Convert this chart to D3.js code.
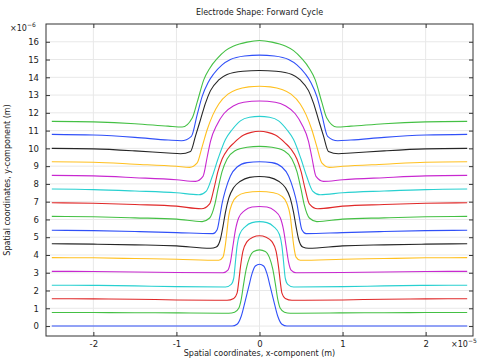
<!DOCTYPE html>
<html>
<head>
<meta charset="utf-8">
<script src="https://cdn.jsdelivr.net/npm/d3@7"></script>
<style>
  body { margin: 0; background: #fff; }
  text { font-family: "DejaVu Sans", sans-serif; fill: #222; }
</style>
</head>
<body>
<svg id="drawing_region"></svg>
<script>
// x in 1e-5 m, y in 1e-6 m ; left half of each profile (mirrored for the right half)
const xTicks = [-2, -1, 0, 1, 2];
const yTicks = d3.range(0, 17);
const colors = ['#3050f8', '#44c044', '#e02828', '#28d0d0', '#c828d0', '#ffc020', '#262626'];

const shape00 = [[-2.5,0],[-1.0,0],[-0.33,0],[-0.27,0.1],[-0.22,0.55],[-0.17,1.45],[-0.13,2.2],[-0.09,2.95],[-0.05,3.38],[0,3.48]];
const shape01 = [[-2.5,0.76],[-2.0,0.76],[-1.5,0.75],[-1.0,0.74],[-0.37,0.72],[-0.3,0.78],[-0.25,1.0],[-0.22,1.5],[-0.19,2.4],[-0.16,3.2],[-0.12,3.85],[-0.07,4.2],[0,4.29]];
const shape02 = [[-2.5,1.54],[-2.0,1.53],[-1.5,1.51],[-1.0,1.47],[-0.39,1.45],[-0.31,1.55],[-0.27,1.85],[-0.25,2.5],[-0.23,3.3],[-0.2,4.2],[-0.15,4.75],[-0.08,5.0],[0,5.08]];
const shape03 = [[-2.5,2.30],[-2.0,2.29],[-1.5,2.26],[-1.0,2.22],[-0.41,2.2],[-0.34,2.35],[-0.31,2.7],[-0.29,3.6],[-0.27,4.5],[-0.24,5.15],[-0.17,5.6],[-0.09,5.82],[0,5.88]];
const shape04 = [[-2.5,3.08],[-2.0,3.07],[-1.5,3.04],[-1.0,3.01],[-0.44,3.0],[-0.38,3.15],[-0.35,3.6],[-0.32,4.5],[-0.29,5.4],[-0.25,6.1],[-0.18,6.5],[-0.09,6.7],[0,6.73]];
const shape05 = [[-2.5,3.85],[-2.0,3.84],[-1.5,3.80],[-1.0,3.76],[-0.49,3.7],[-0.44,3.88],[-0.41,4.6],[-0.39,5.4],[-0.37,6.2],[-0.33,6.9],[-0.27,7.3],[-0.17,7.5],[0,7.57]];
const shape06 = [[-2.5,4.63],[-2.0,4.61],[-1.5,4.57],[-1.0,4.51],[-0.59,4.38],[-0.52,4.45],[-0.47,4.9],[-0.44,5.6],[-0.41,6.4],[-0.37,7.2],[-0.31,7.8],[-0.23,8.15],[-0.12,8.37],[0,8.42]];
const shape07 = [[-2.5,5.39],[-2.0,5.37],[-1.5,5.32],[-1.0,5.26],[-0.56,5.2],[-0.51,5.42],[-0.48,6.1],[-0.45,6.9],[-0.41,7.65],[-0.35,8.45],[-0.27,8.95],[-0.15,9.2],[0,9.25]];
const shape08 = [[-2.5,6.17],[-2.0,6.15],[-1.5,6.09],[-1.0,6.02],[-0.69,5.88],[-0.6,6.08],[-0.54,6.8],[-0.5,7.7],[-0.45,8.7],[-0.39,9.4],[-0.3,9.85],[-0.15,10.06],[0,10.11]];
const shape09 = [[-2.5,6.94],[-2.0,6.91],[-1.5,6.84],[-1.0,6.75],[-0.7,6.6],[-0.6,6.88],[-0.55,7.7],[-0.5,8.7],[-0.45,9.4],[-0.38,9.95],[-0.31,10.3],[-0.19,10.75],[-0.1,10.9],[0,10.96]];
const shape10 = [[-2.5,7.71],[-2.0,7.68],[-1.5,7.60],[-1.0,7.50],[-0.73,7.39],[-0.64,7.6],[-0.57,8.4],[-0.5,9.4],[-0.41,10.5],[-0.33,11.05],[-0.23,11.55],[-0.12,11.75],[0,11.8]];
const shape11 = [[-2.5,8.48],[-2.0,8.45],[-1.5,8.35],[-1.0,8.23],[-0.77,8.14],[-0.68,8.42],[-0.63,9.5],[-0.59,10.4],[-0.51,11.35],[-0.43,11.95],[-0.31,12.4],[-0.19,12.6],[0,12.67]];
const shape12 = [[-2.5,9.25],[-2.0,9.22],[-1.5,9.11],[-1.0,8.99],[-0.84,8.93],[-0.75,9.18],[-0.69,10.1],[-0.63,11.05],[-0.56,11.9],[-0.49,12.5],[-0.38,13.05],[-0.27,13.31],[-0.13,13.46],[0,13.5]];
const shape13 = [[-2.5,10.0],[-2.0,9.97],[-1.5,9.86],[-1.1,9.74],[-0.95,9.7],[-0.83,9.83],[-0.77,10.7],[-0.71,11.62],[-0.65,12.55],[-0.59,13.25],[-0.49,13.85],[-0.39,14.16],[-0.2,14.34],[0,14.38]];
const shape14 = [[-2.5,10.79],[-2.0,10.75],[-1.5,10.62],[-1.1,10.47],[-0.94,10.43],[-0.82,10.68],[-0.75,11.9],[-0.69,12.93],[-0.62,13.7],[-0.55,14.2],[-0.45,14.7],[-0.35,15.0],[-0.18,15.2],[0,15.25]];
const shape15 = [[-2.5,11.52],[-2.0,11.49],[-1.5,11.39],[-1.1,11.25],[-0.93,11.2],[-0.81,11.71],[-0.75,12.6],[-0.67,13.87],[-0.6,14.5],[-0.51,15.05],[-0.41,15.5],[-0.31,15.76],[-0.15,15.98],[0,16.07]];

const shapes = [shape00, shape01, shape02, shape03, shape04, shape05, shape06, shape07,
                shape08, shape09, shape10, shape11, shape12, shape13, shape14, shape15];

const width = 481, height = 363;
const margin = {top: 24, right: 8, bottom: 27, left: 46};

const svg = d3.select('#drawing_region')
    .attr('width', width)
    .attr('height', height);

const xscale = d3.scaleLinear()
    .domain([-2.57, 2.57])
    .range([margin.left, width - margin.right]);

const yscale = d3.scaleLinear()
    .domain([-0.56, 17.0])
    .range([height - margin.bottom, margin.top]);

const x0 = margin.left, x1 = width - margin.right;
const y0 = height - margin.bottom, y1 = margin.top;

// grid
svg.append('g').selectAll('line.gx')
    .data(xTicks).enter().append('line')
    .attr('x1', d => xscale(d)).attr('x2', d => xscale(d))
    .attr('y1', y0).attr('y2', y1)
    .attr('stroke', '#e8e8e8').attr('stroke-width', 1);

svg.append('g').selectAll('line.gy')
    .data(yTicks).enter().append('line')
    .attr('x1', x0).attr('x2', x1)
    .attr('y1', d => yscale(d)).attr('y2', d => yscale(d))
    .attr('stroke', '#e8e8e8').attr('stroke-width', 1);

// profiles
const line = d3.line()
    .x(d => xscale(d[0]))
    .y(d => yscale(d[1]))
    .curve(d3.curveMonotoneX);

const full = s => s.concat(s.slice(0, -1).reverse().map(p => [-p[0], p[1]]));

svg.append('g').selectAll('path')
    .data(shapes).enter().append('path')
    .attr('d', d => line(full(d)))
    .attr('fill', 'none')
    .attr('stroke', (d, i) => colors[i % colors.length])
    .attr('stroke-width', 1.1);

// axes (ticks inside)
const fmt = d => d3.format('d')(d).replace('−', '-');

svg.append('g')
    .attr('transform', `translate(0,${y0})`)
    .call(d3.axisBottom(xscale).tickValues(xTicks).tickSize(-4).tickPadding(5).tickFormat(fmt));

svg.append('g')
    .attr('transform', `translate(0,${y1})`)
    .call(d3.axisTop(xscale).tickValues(xTicks).tickSize(-4).tickFormat(''));

svg.append('g')
    .attr('transform', `translate(${x0},0)`)
    .call(d3.axisLeft(yscale).tickValues(yTicks).tickSize(-4).tickPadding(7).tickFormat(fmt));

svg.append('g')
    .attr('transform', `translate(${x1},0)`)
    .call(d3.axisRight(yscale).tickValues(yTicks).tickSize(-4).tickFormat(''));

svg.selectAll('.domain').remove();
svg.selectAll('.tick line').attr('stroke', '#333');
svg.selectAll('.tick text').attr('font-size', '8.5px').attr('fill', '#222')
    .attr('font-family', '"DejaVu Sans", sans-serif');

svg.append('rect')
    .attr('x', x0).attr('y', y1)
    .attr('width', x1 - x0).attr('height', y0 - y1)
    .attr('fill', 'none').attr('stroke', '#333').attr('stroke-width', 1);

// texts
svg.append('text')
    .attr('x', (x0 + x1) / 2).attr('y', 15)
    .attr('text-anchor', 'middle').attr('font-size', '8px')
    .text('Electrode Shape: Forward Cycle');

svg.append('text')
    .attr('x', (x0 + x1) / 2).attr('y', 356)
    .attr('text-anchor', 'middle').attr('font-size', '8px')
    .text('Spatial coordinates, x-component (m)');

svg.append('text')
    .attr('transform', `translate(9.5,${(y0 + y1) / 2}) rotate(-90)`)
    .attr('text-anchor', 'middle').attr('font-size', '8px')
    .text('Spatial coordinates, y-component (m)');

const e6 = svg.append('text').attr('x', 10).attr('y', 31).attr('font-size', '8px');
e6.append('tspan').text('×10');
e6.append('tspan').attr('dy', -4).attr('font-size', '6px').text('−6');

const e5 = svg.append('text').attr('x', 451).attr('y', 347).attr('font-size', '8px');
e5.append('tspan').text('×10');
e5.append('tspan').attr('dy', -4).attr('font-size', '6px').text('−5');
</script>
</body>
</html>
